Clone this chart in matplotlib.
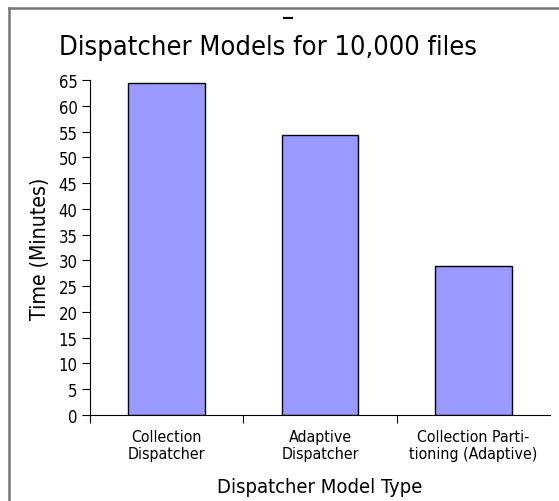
import matplotlib
matplotlib.use("Agg")
import matplotlib.pyplot as plt
from matplotlib.lines import Line2D
import numpy as np

models = ["Collection\nDispatcher", "Adaptive\nDispatcher", "Collection Parti-\ntioning (Adaptive)"]
minutes = [64.4, 54.3, 29.0]
y_ticks = list(range(0, 70, 5))

plt.rcParams['font.family'] = ["DejaVu Sans"]
plt.rcParams['font.stretch'] = "condensed"

fig = plt.figure(figsize=(5.59, 5.02), dpi=100)
ax = fig.add_axes([90 / 559, 1 - 416 / 502, 460 / 559, 335 / 502])

x = np.arange(len(minutes))
ax.bar(x, minutes, width=0.5, color="#9999ff", edgecolor="black", linewidth=1)

ax.set_xlim(-0.5, 2.5)
ax.set_ylim(0, 65)
ax.set_yticks(y_ticks)
ax.tick_params(axis="y", direction="out", length=5.5, labelsize=12, pad=3.5)

# boundary ticks without labels, category names as minor labels
ax.set_xticks([-0.5, 0.5, 1.5])
ax.set_xticklabels([])
ax.tick_params(axis="x", which="major", direction="out", length=5.5)
ax.set_xticks(x, minor=True)
ax.set_xticklabels(models, minor=True, fontsize=11.4, linespacing=1.15)
ax.tick_params(axis="x", which="minor", length=0, pad=10)

for s in ["top", "right"]:
    ax.spines[s].set_visible(False)

ax.set_ylabel("Time (Minutes)", fontsize=15.2, labelpad=6)
ax.set_xlabel("Dispatcher Model Type", fontsize=14.5, labelpad=12)
fig.text(268 / 559, 1 - 55 / 502, "Dispatcher Models for 10,000 files", fontsize=19.5,
         ha="center", va="baseline")

# frame on left and top (image is cropped at right/bottom)
fig.add_artist(Line2D([9 / 559, 9 / 559], [0, 1 - 9 / 502], color="#777777", linewidth=1.8))
fig.add_artist(Line2D([9 / 559, 1], [1 - 9 / 502, 1 - 9 / 502], color="#777777", linewidth=1.8))
fig.add_artist(Line2D([284 / 559, 292 / 559], [1 - 19 / 502, 1 - 19 / 502], color="black", linewidth=1.5))

fig.savefig("out.png", dpi=100)
